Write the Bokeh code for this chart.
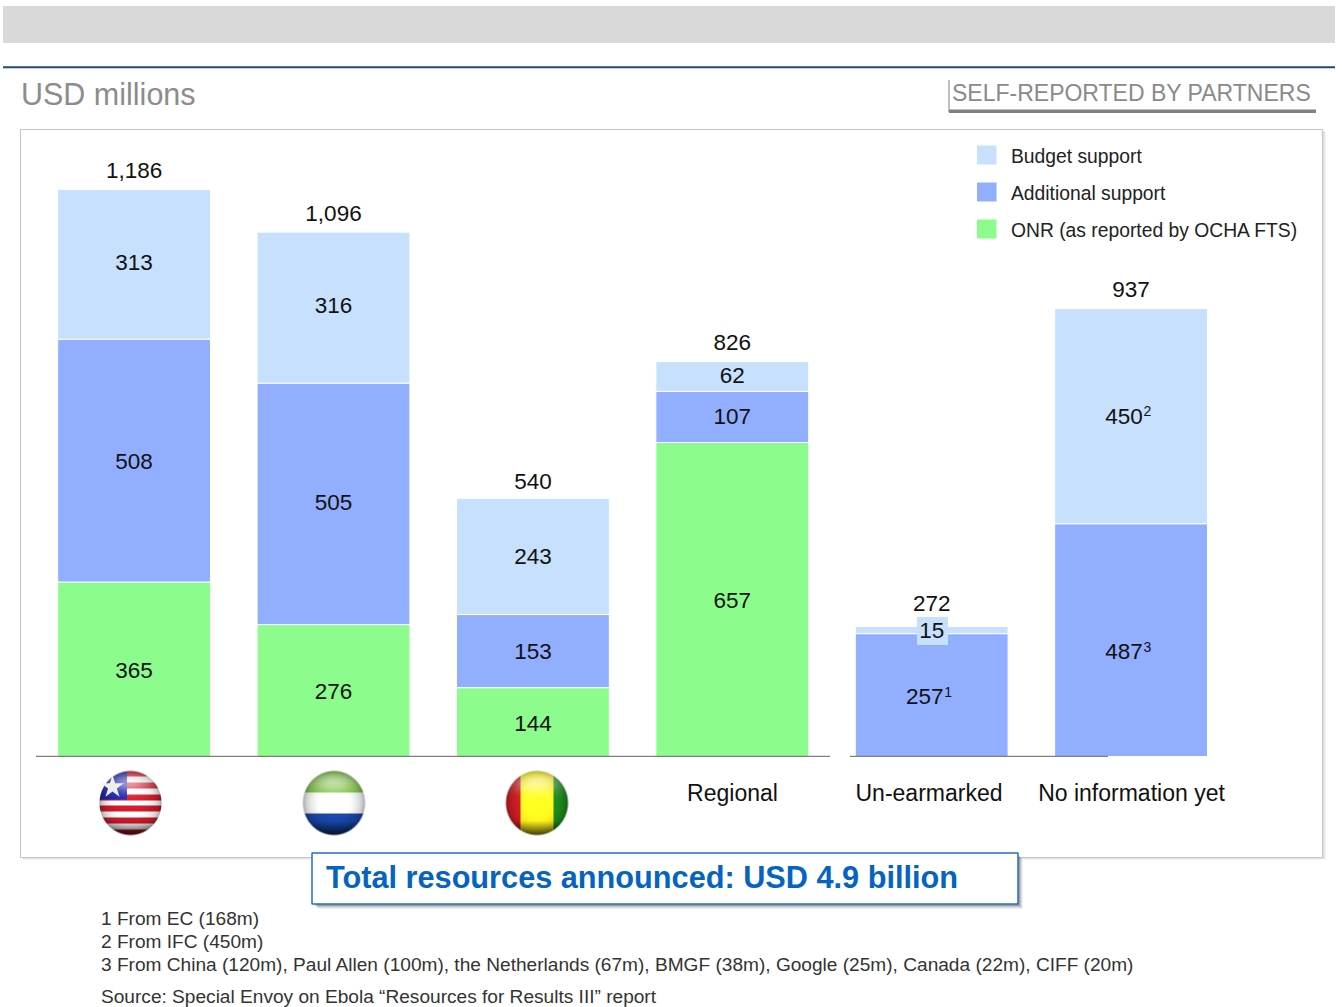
import numpy as np
from bokeh.core.properties import value
from bokeh.embed import file_html
from bokeh.models import ColumnDataSource, Range1d
from bokeh.plotting import figure
from bokeh.resources import INLINE

categories = ["Liberia", "Sierra Leone", "Guinea", "Regional", "Un-earmarked", "No information yet"]
onr = [365, 276, 144, 657, 0, 0]
additional = [508, 505, 153, 107, 257, 487]
budget = [313, 316, 243, 62, 15, 450]
total_labels = ["1,186", "1,096", "540", "826", "272", "937"]
additional_sup = ["", "", "", "", "1", "3"]
budget_sup = ["", "", "", "", "", "2"]
text_categories = ["Regional", "Un-earmarked", "No information yet"]
legend_labels = ["Budget support", "Additional support", "ONR (as reported by OCHA FTS)"]
footnotes = [
    "1 From EC (168m)",
    "2 From IFC (450m)",
    "3 From China (120m), Paul Allen (100m), the Netherlands (67m), BMGF (38m), Google (25m), Canada (22m), CIFF (20m)",
]
source_note = "Source: Special Envoy on Ebola \u201cResources for Results III\u201d report"
headline = "Total resources announced: USD 4.9 billion"

# label placement tweaks, in pixels
SEG_DY = {313: -2, 508: 0.5, 365: 1.5, 316: -2, 505: -1, 276: 1, 144: 1, 62: -1, 657: 1, 257: 1.5, 487: 11.5}
TOTAL_DY = [-19, -19, -17, -19, -23, -19]

C_BUDGET, C_ADD, C_ONR = "#C6E0FD", "#91AEFF", "#8CFD8C"
FONT = value("Liberation Sans")

W, H = 1342, 1007
BASE_Y, UNIT = 756.0, 0.478
X0, STEP = 133.6, 199.4

p = figure(
    width=W, height=H, output_backend="svg", toolbar_location=None,
    x_range=Range1d(-X0 / STEP, (W - X0) / STEP),
    y_range=Range1d(-(H - BASE_Y) / UNIT, BASE_Y / UNIT),
    x_axis_location=None, y_axis_location=None,
    min_border=0, outline_line_color=None, background_fill_color="white",
    border_fill_color="white",
)
p.grid.visible = False
p.extra_x_ranges["px"] = Range1d(0.5, W + 0.5)
p.extra_y_ranges["px"] = Range1d(H + 0.5, 0.5)
PX = dict(x_range_name="px", y_range_name="px")


def box(x0, y0, x1, y1, **kw):
    p.quad(left=[x0], right=[x1], top=[y0], bottom=[y1], **PX, **kw)


def txt(x, y, s, size, color="#1a1a1a", align="left", style="normal", font=FONT):
    p.text([x], [y], text=[s], text_font=font, text_font_size=f"{size}px", text_color=color,
           text_align=align, text_baseline="middle", text_font_style=style, **PX)


# header
box(3, 6, 1335, 43, fill_color="#D9D9D9", line_color=None)
box(3, 66.2, 1335, 68.2, fill_color="#1F497D", line_color=None)
txt(21, 94, "USD millions", 30.5, color="#8c8c8c")
txt(952, 93, "SELF-REPORTED BY PARTNERS", 23, color="#8a8a8a")
box(948.5, 80, 949.5, 112, fill_color="#808080", line_color=None)
box(949, 109.5, 1316, 113, fill_color="#808080", line_color=None)

# panel with soft shadow
for off, a in [(3, 0.04), (2, 0.07)]:
    box(20 + off, 129 + off, 1323 + off, 857 + off, fill_color="#000000", fill_alpha=a, line_color=None)
box(20.5, 129.5, 1322.5, 857.5, fill_color="white", line_color="#c4c4c4", line_width=1)

# bars
xs = list(range(len(categories)))
src = ColumnDataSource(dict(x=xs, onr=onr, additional=additional, budget=budget))
p.vbar_stack(["onr", "additional", "budget"], x="x", width=0.7665, source=src,
             color=[C_ONR, C_ADD, C_BUDGET], line_color="white", line_width=1)

# baseline
p.line([36, 830], [756.3, 756.3], line_color="#7f7f7f", line_width=1.2, **PX)
p.line([850, 1108], [756.3, 756.3], line_color="#7f7f7f", line_width=1.2, **PX)

# segment labels
box(917, 617, 948, 645, fill_color=C_BUDGET, line_color=None)
seg_x, seg_y, seg_t, seg_off, seg_dy, sup_x, sup_y, sup_t, sup_dy = [], [], [], [], [], [], [], [], []
for i in xs:
    base = 0
    for vals, sups in ((onr, None), (additional, additional_sup), (budget, budget_sup)):
        v = vals[i]
        if v:
            s = sups[i] if sups else ""
            seg_x.append(i)
            seg_y.append(base + v / 2)
            seg_t.append(str(v))
            seg_off.append(-7 if s else 0)
            seg_dy.append(SEG_DY.get(v, 0))
            if s:
                sup_x.append(i)
                sup_y.append(base + v / 2)
                sup_t.append(s)
                sup_dy.append(SEG_DY.get(v, 0) - 5)
        base += v
p.text(x="x", y="y", text="t", x_offset="o", y_offset="d",
       source=ColumnDataSource(dict(x=seg_x, y=seg_y, t=seg_t, o=seg_off, d=seg_dy)),
       text_font=FONT, text_font_size="22.5px", text_color="#111111", text_align="center", text_baseline="middle")
p.text(x="x", y="y", text="t", y_offset="d", x_offset=12.5,
       source=ColumnDataSource(dict(x=sup_x, y=sup_y, t=sup_t, d=sup_dy)),
       text_font=FONT, text_font_size="14px", text_color="#111111", text_align="left", text_baseline="middle")

# totals
tot_y = [a + b + c for a, b, c in zip(onr, additional, budget)]
p.text(x="x", y="y", text="t", y_offset="d",
       source=ColumnDataSource(dict(x=xs, y=tot_y, t=total_labels, d=TOTAL_DY)),
       text_font=FONT, text_font_size="22.5px", text_color="#111111", text_align="center", text_baseline="middle")

# category labels
for s, cx in zip(text_categories, (732.5, 929, 1131.5)):
    txt(cx, 792.5, s, 23, color="#111111", align="center")

# legend
for s, col, y in zip(legend_labels, (C_BUDGET, C_ADD, C_ONR), (155, 192, 229)):
    box(977, y - 9.5, 996.5, y + 9.5, fill_color=col, line_color=None)
    txt(1011, y + 1, s, 19.3, color="#222222")


# flags: small shaded globes
def globe(colour_fn, rx=31.5, ry=32.5):
    w, h = int(2 * rx + 2), int(2 * ry + 2)
    yy, xx = np.mgrid[0:h, 0:w]
    u = (xx + 0.5 - w / 2) / rx
    v = (yy + 0.5 - h / 2) / ry
    r = np.sqrt(u ** 2 + v ** 2)
    rgb = colour_fn(u, v).astype(float)
    z = np.sqrt(np.clip(1 - r ** 2, 0, 1))
    shade = 0.45 + 0.65 * z ** 0.7
    rgb = rgb * shade[..., None]
    gloss = np.exp(-((v + 0.62) / 0.3) ** 2) * np.exp(-(u / 0.7) ** 2) * 0.55
    rgb = rgb + (255 - rgb) * gloss[..., None]
    dark = np.clip((v - 0.55) / 0.45, 0, 1) * 0.65
    rgb = rgb * (1 - dark[..., None])
    alpha = np.clip((1 - r) * 32, 0, 1) * 255
    out = np.dstack([rgb, alpha]).clip(0, 255).astype(np.uint8)
    img = np.zeros((h, w), dtype=np.uint32)
    view = img.view(dtype=np.uint8).reshape((h, w, 4))
    view[...] = out
    return img


def liberia(u, v):
    c = np.zeros(u.shape + (3,))
    stripe = np.floor((v + 1) / 2 * 11).astype(int) % 2
    c[stripe == 0] = (200, 25, 40)
    c[stripe == 1] = (245, 245, 245)
    c[(u < -0.1) & (v < -0.1)] = (25, 35, 170)
    return c


def sierra(u, v):
    c = np.zeros(u.shape + (3,))
    c[v < -0.33] = (120, 185, 60)
    c[(v >= -0.33) & (v < 0.33)] = (245, 245, 245)
    c[v >= 0.33] = (25, 70, 165)
    return c


def guinea(u, v):
    c = np.zeros(u.shape + (3,))
    c[u < -0.53] = (205, 30, 35)
    c[(u >= -0.53) & (u < 0.52)] = (250, 240, 30)
    c[u >= 0.52] = (30, 140, 30)
    return c


for fn, cx in ((liberia, 130.5), (sierra, 334), (guinea, 537)):
    img = globe(fn)
    h, w = img.shape
    p.image_rgba(image=[img], x=[cx - w / 2], y=[803 - h / 2], dw=[w], dh=[h], **PX)
p.scatter([112.5], [787], marker="star", size=24, fill_color="#eeeeee", line_color=None, **PX)

# headline box
for off, a in [(5, 0.06), (4, 0.08), (3, 0.12), (2, 0.16)]:
    box(313 + off, 854 + off, 1018 + off, 904 + off, fill_color="#000000", fill_alpha=a, line_color=None)
box(312, 853, 1018, 904, fill_color="white", line_color="#1F6FD0", line_width=1.5)
txt(326, 877.5, headline, 30.7, color="#0563C1", style="bold")

# footnotes
for s, y in zip(footnotes, (918, 941, 964)):
    txt(101, y, s, 19.1, color="#333333")
txt(101, 996, source_note, 19.1, color="#333333")

open("out.html", "w").write(file_html(p, INLINE))
